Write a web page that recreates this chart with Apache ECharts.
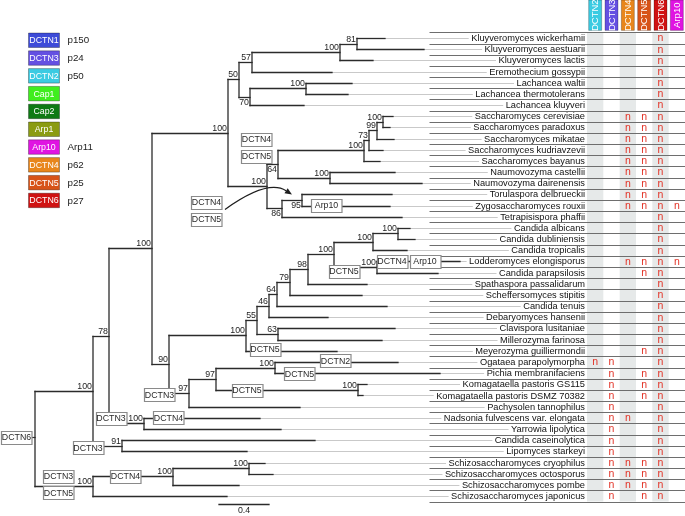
<!DOCTYPE html>
<html><head><meta charset="utf-8">
<script src="https://cdn.jsdelivr.net/npm/echarts@6/dist/echarts.min.js"></script>
<style>html,body{margin:0;padding:0;background:#fff}#c{width:685px;height:516px}</style>
</head><body><div id="c"></div>
<script>
// ---------------- DATA ----------------
const species = ['Kluyveromyces wickerhamii','Kluyveromyces aestuarii','Kluyveromyces lactis','Eremothecium gossypii','Lachancea waltii','Lachancea thermotolerans','Lachancea kluyveri','Saccharomyces cerevisiae','Saccharomyces paradoxus','Saccharomyces mikatae','Saccharomyces kudriavzevii','Saccharomyces bayanus','Naumovozyma castellii','Naumovozyma dairenensis','Torulaspora delbrueckii','Zygosaccharomyces rouxii','Tetrapisispora phaffii','Candida albicans','Candida dubliniensis','Candida tropicalis','Lodderomyces elongisporus','Candida parapsilosis','Spathaspora passalidarum','Scheffersomyces stipitis','Candida tenuis','Debaryomyces hansenii','Clavispora lusitaniae','Millerozyma farinosa','Meyerozyma guilliermondii','Ogataea parapolymorpha','Pichia membranifaciens','Komagataella pastoris GS115','Komagataella pastoris DSMZ 70382','Pachysolen tannophilus','Nadsonia fulvescens var. elongata','Yarrowia lipolytica','Candida caseinolytica','Lipomyces starkeyi','Schizosaccharomyces cryophilus','Schizosaccharomyces octosporus','Schizosaccharomyces pombe','Schizosaccharomyces japonicus'];

// tree (Newick pieces: branch lengths in substitutions/site, internal labels = bootstrap support)
const nwKluy = '((Kluyveromyces wickerhamii:0.224,Kluyveromyces aestuarii:0.536)81:0.136,Kluyveromyces lactis:0.264)100';
const nwKLE = `(${nwKluy}:0.704,Eremothecium gossypii:0.64)57`;
const nwLach = '((Lachancea waltii:0.368,Lachancea thermotolerans:0.336)100:0.448,Lachancea kluyveri:0.432)70';
const nwKLEL = `(${nwKLE}:0.104,${nwLach}:0.088)50`;
const nwSacch = '((((Saccharomyces cerevisiae:0.08,Saccharomyces paradoxus:0.056)100:0.048,Saccharomyces mikatae:0.136)99:0.064,Saccharomyces kudriavzevii:0.112)73:0.04,Saccharomyces bayanus:0.128)100';
const nwNaum = '(Naumovozyma castellii:0.52,Naumovozyma dairenensis:0.736)100';
const nwSN = `(${nwSacch}:0.688,${nwNaum}:0.416)64`;
const nwZT = '((Torulaspora delbrueckii:0.72,Zygosaccharomyces rouxii:0.704)95:0.16,Tetrapisispora phaffii:0.96)86';
const nwWGD = `(${nwSN}:0.088,${nwZT}:0.12)100`;
const nwSaccharomycetaceae = `(${nwKLEL}:0.088,${nwWGD}:0.312)100`;
const nwCandida = '(((Candida albicans:0.096,Candida dubliniensis:0.136)100:0.2,Candida tropicalis:0.272)100:0.312,(Lodderomyces elongisporus:0.664,Candida parapsilosis:0.488)100:0.344)100';
const nwCTG = `((((((${nwCandida}:0.208,Spathaspora passalidarum:0.472)98:0.144,Scheffersomyces stipitis:0.576)79:0.104,Candida tenuis:0.88)64:0.064,Debaryomyces hansenii:0.472)46:0.096,(Clavispora lusitaniae:0.936,Millerozyma farinosa:0.832)63:0.168)55:0.088,Meyerozyma guilliermondii:0.728)100`;
const nwMethylo = '((Ogataea parapolymorpha:0.984,Pichia membranifaciens:1.32)100:0.472,(Komagataella pastoris GS115:0.072,Komagataella pastoris DSMZ 70382:0.04)100:1.136)97';
const nwMethPach = `(${nwMethylo}:0.216,Pachysolen tannophilus:0.888)97`;
const nwN90 = `(${nwCTG}:0.616,${nwMethPach}:0.16)90`;
const nwN152 = `(${nwSaccharomycetaceae}:0.608,${nwN90}:0.136)100`;
const nwN78 = `(${nwN152}:0.344,(Nadsonia fulvescens var. elongata:0.928,Yarrowia lipolytica:1.096)100:0.28)78`;
const nwT1 = `(${nwN78}:0.128,(Candida caseinolytica:1.544,Lipomyces starkeyi:1.0)91:0.232)100`;
const nwSchizo = '(((Schizosaccharomyces cryophilus:0.128,Schizosaccharomyces octosporus:0.192)100:0.608,Schizosaccharomyces pombe:0.528)100:0.64,Schizosaccharomyces japonicus:1.072)100';
const treeNewick = `(${nwT1}:0.464,${nwSchizo}:0.464);`;

// table columns and absent ('n') rows per column
const geneColumns = ['DCTN2','DCTN3','DCTN4','DCTN5','DCTN6','Arp10'];
const absentDCTN2 = [29];
const absentDCTN3 = [29,30,31,32,33,34,35,36,37,38,39,40,41];
const absentDCTN4 = [7,8,9,10,11,12,13,14,15,20,34,38,39,40];
const absentDCTN5 = [7,8,9,10,11,12,13,14,15,20,21,28,30,31,32,38,39,40,41];
const absentDCTN6 = [0,1,2,3,4,5,6,7,8,9,10,11,12,13,14,15,16,17,18,19,20,21,22,23,24,25,26,27,28,29,30,31,32,33,34,35,36,37,38,39,40,41];
const absentArp10 = [15,20];

// legend
const legendGenes = ['DCTN1','DCTN3','DCTN2','Cap1','Cap2','Arp1','Arp10','DCTN4','DCTN5','DCTN6'];
const legendAliases = ['p150','p24','p50','','','','Arp11','p62','p25','p27'];

// gene-loss annotations on branches (gene, clade = MRCA of listed leaves)
const lossGene = ['DCTN6','DCTN3','DCTN3','DCTN4','DCTN3','DCTN5','DCTN4','DCTN3','DCTN5','DCTN2','DCTN5','DCTN5','DCTN5','DCTN4','Arp10','Arp10','DCTN4','DCTN5','DCTN4','DCTN5'];
const lossClade = ['Kluyveromyces wickerhamii|Schizosaccharomyces japonicus','Candida caseinolytica|Lipomyces starkeyi','Nadsonia fulvescens var. elongata|Yarrowia lipolytica','Nadsonia fulvescens var. elongata','Schizosaccharomyces cryophilus|Schizosaccharomyces japonicus','Schizosaccharomyces cryophilus|Schizosaccharomyces japonicus','Schizosaccharomyces cryophilus|Schizosaccharomyces pombe','Ogataea parapolymorpha|Pachysolen tannophilus','Meyerozyma guilliermondii','Ogataea parapolymorpha','Pichia membranifaciens','Komagataella pastoris GS115|Komagataella pastoris DSMZ 70382','Lodderomyces elongisporus|Candida parapsilosis','Lodderomyces elongisporus','Lodderomyces elongisporus','Zygosaccharomyces rouxii','Torulaspora delbrueckii|Zygosaccharomyces rouxii','Torulaspora delbrueckii|Zygosaccharomyces rouxii','Saccharomyces cerevisiae|Naumovozyma dairenensis','Saccharomyces cerevisiae|Naumovozyma dairenensis'];
const lossArrowClade = 'Torulaspora delbrueckii|Zygosaccharomyces rouxii';
const scaleBarLength = 0.4;

// ---------------- LAYOUT / STYLE ----------------
const geneColors = {DCTN1:'#3d4bd8',DCTN3:'#6450e2',DCTN2:'#3ccbe2',Cap1:'#3fee1e',Cap2:'#0e7a14',Arp1:'#8b9b12',Arp10:'#e014e2',DCTN4:'#e8861c',DCTN5:'#d75318',DCTN6:'#cf1212'};
// offsets (px) of loss boxes from (branch start x, branch y)
const lossOffset = [[-18.5,-1.5],[-5,2],[2,-5],[24.5,0],[23.5,-10],[23.5,6.5],[32.5,0],[-9.5,2],[19,-1.5],[60.5,-1],[24.5,0.5],[31,0.5],[10,4],[15,0],[48,0],[24.5,-0.5],[-75.5,2.5],[-75.5,19.5],[-10.5,-24.6],[-10.5,-7.6]];
const arrowLayout = {start:[-57,9.5], ctrl:[-14.5,-21], end:[10,-5.5]};
const supportBelow = ['Saccharomyces cerevisiae|Naumovozyma dairenensis','Lachancea waltii|Lachancea kluyveri','Torulaspora delbrueckii|Tetrapisispora phaffii','Torulaspora delbrueckii|Zygosaccharomyces rouxii'];
const TABLE_LEFT = 587, ROWLINE_LEFT = 430, GRID_TOP = 32.4, GRID_BOTTOM = 14.4;
const SCALE_X = 1.472;
const TREE_COLOR = '#2b2b2b';
const FAMILY = '"Liberation Sans Narrow","Liberation Sans",Arial,sans-serif';
const mctx = document.createElement('canvas').getContext('2d');
function measure(t, size){ mctx.font = size + 'px ' + FAMILY; return mctx.measureText(t).width; }
const NAME_SIZE = Math.min(11.5, 11 * 149 / measure('Komagataella pastoris DSMZ 70382', 11));
const SMALL_SIZE = NAME_SIZE * 0.95;

// ---------------- TREE ----------------
function parseNewick(s){
  let i = 0;
  function node(){
    const n = {children:[], name:'', len:0};
    if (s[i] === '('){ i++; n.children.push(node()); while (s[i] === ','){ i++; n.children.push(node()); } i++; }
    let t = ''; while (i < s.length && ':,();'.indexOf(s[i]) < 0) t += s[i++];
    n.name = t;
    if (s[i] === ':'){ i++; let v = ''; while (i < s.length && ',();'.indexOf(s[i]) < 0) v += s[i++]; n.len = parseFloat(v); }
    return n;
  }
  return node();
}
const root = parseNewick(treeNewick);
const nodes = [];
(function layout(n, parentX){
  n.px = parentX; n.x = parentX + n.len;
  if (!n.children.length){ n.y = species.indexOf(n.name); n.leafSet = [n.name]; }
  else {
    n.children.forEach(c => layout(c, n.x));
    const ys = n.children.map(c => c.y);
    n.y0 = Math.min.apply(null, ys); n.y1 = Math.max.apply(null, ys); n.y = (n.y0 + n.y1) / 2;
    n.leafSet = [].concat.apply([], n.children.map(c => c.leafSet));
    n.support = n.name;
  }
  nodes.push(n);
})(root, 0);
function mrca(key){
  const names = key.split('|'); let best = null;
  nodes.forEach(n => { if (names.every(nm => n.leafSet.indexOf(nm) >= 0) && (!best || n.leafSet.length < best.leafSet.length)) best = n; });
  return best;
}
const belowNodes = supportBelow.map(mrca);
const leaves = nodes.filter(n => !n.children.length);

function txt(x, y, text, size, fill, align, vAlign, extra){
  return Object.assign({type:'text', x:x, y:y, style:{text:text, fill:fill, font: size + 'px ' + FAMILY, align:align, verticalAlign:vAlign}}, extra || {});
}
function line(x1,y1,x2,y2,stroke,w){ return {type:'line', shape:{x1:x1,y1:y1,x2:x2,y2:y2}, style:{stroke:stroke, lineWidth:w, lineCap:'square'}}; }

// ---------------- SERIES ----------------
const series = [];
// table shading
series.push({type:'custom', xAxisIndex:1, yAxisIndex:1, z:0, silent:true,
  data: geneColumns.map((g,i)=>[i,0]),
  renderItem(params, api){
    const i = api.value(0); const bw = api.size([1,0])[0];
    const a = api.coord([i,-0.5]), b = api.coord([i,41.5]);
    if (i % 2 === 0) return {type:'rect', shape:{x:a[0]-bw/2, y:a[1], width:bw, height:b[1]-a[1]}, style:{fill:'#e6e9e9'}};
    return null;
  }});
// row lines
series.push({type:'custom', xAxisIndex:1, yAxisIndex:1, z:1, silent:true,
  data: species.map((s,i)=>[0,i]).concat([[0,42]]),
  renderItem(params, api){
    const r = api.value(1); const y = Math.round(api.coord([0, r-0.5])[1]) + 0.5;
    const cs = params.coordSys;
    return line(ROWLINE_LEFT, y, cs.x + cs.width, y, '#6e6e6e', 1);
  }});
// guide lines
series.push({type:'custom', xAxisIndex:0, yAxisIndex:0, z:1, silent:true,
  data: leaves.map(n=>[n.x, n.y]),
  renderItem(params, api){
    const n = leaves[params.dataIndex];
    const p = api.coord([api.value(0), api.value(1)]);
    const endX = TABLE_LEFT - 2 - measure(n.name, NAME_SIZE) - 3;
    const y = Math.round(p[1]) + 0.5;
    return line(p[0], y, endX, y, '#c9c9c9', 1);
  }});
// branches + support labels
series.push({type:'custom', xAxisIndex:0, yAxisIndex:0, z:3, silent:true,
  data: nodes.map(n=>[n.x, n.y]),
  renderItem(params, api){
    const n = nodes[params.dataIndex]; const ch = [];
    const x = api.value(0), y = api.value(1);
    const p1 = api.coord([n.px, y]), p2 = api.coord([x, y]);
    const yy = Math.round(p2[1]) + 0.5;
    if (x > n.px) ch.push(line(p1[0], yy, p2[0], yy, TREE_COLOR, 1.3));
    if (n.children.length){
      const a = api.coord([x, n.y0]), b = api.coord([x, n.y1]);
      ch.push(line(p2[0], Math.round(a[1])+0.5, p2[0], Math.round(b[1])+0.5, TREE_COLOR, 1.3));
      if (n.support){
        const below = belowNodes.indexOf(n) >= 0;
        ch.push(txt(p2[0]-1, below ? yy+1 : yy-0.5, n.support, SMALL_SIZE, '#1e1e1e', 'right', below ? 'top' : 'bottom'));
      }
    }
    return {type:'group', children:ch};
  }});
// leaf names
series.push({type:'custom', xAxisIndex:1, yAxisIndex:1, z:4, silent:true,
  data: species.map((s,i)=>[0,i]),
  renderItem(params, api){
    const p = api.coord([0, api.value(1)]);
    return txt(params.coordSys.x - 2, p[1]+0.5, species[params.dataIndex], NAME_SIZE, '#111', 'right', 'middle');
  }});
// header cells
series.push({type:'custom', xAxisIndex:1, yAxisIndex:1, z:4, silent:true,
  data: geneColumns.map((g,i)=>[i,-0.5]),
  renderItem(params, api){
    const p = api.coord([api.value(0), -0.5]); const g = geneColumns[params.dataIndex];
    const h = params.coordSys.y - 2;
    return {type:'group', children:[
      {type:'rect', shape:{x:p[0]-6.5, y:0, width:13, height:h}, style:{fill:geneColors[g], stroke:'rgba(0,0,0,0.25)', lineWidth:1}},
      txt(p[0]+0.5, h/2, g, 9.5, '#fff', 'center', 'middle', {rotation:Math.PI/2})
    ]};
  }});
// 'n' marks
const absentLists = [absentDCTN2, absentDCTN3, absentDCTN4, absentDCTN5, absentDCTN6, absentArp10];
const nData = [];
absentLists.forEach((lst, c) => lst.forEach(r => nData.push([c, r])));
series.push({type:'custom', xAxisIndex:1, yAxisIndex:1, z:4, silent:true,
  data: nData,
  renderItem(params, api){
    const p = api.coord([api.value(0), api.value(1)]);
    return txt(p[0], p[1]+0.5, 'n', 10.5, '#e23226', 'center', 'middle');
  }});
// loss boxes
const lossNodes = lossClade.map(mrca);
series.push({type:'custom', xAxisIndex:0, yAxisIndex:0, z:6, silent:true,
  data: lossNodes.map(n=>[n.px, n.y]),
  renderItem(params, api){
    const i = params.dataIndex; const n = lossNodes[i];
    const p = api.coord([api.value(0), api.value(1)]);
    const cx = p[0] + lossOffset[i][0], cy = p[1] + lossOffset[i][1];
    const ch = [];
    if (n === root) ch.push(line(cx+15, Math.round(cy)+0.5, p[0], Math.round(cy)+0.5, TREE_COLOR, 1.2));
    ch.push({type:'rect', shape:{x:Math.round(cx-15.25)+0.5, y:Math.round(cy-6.5)+0.5, width:30.5, height:13}, style:{fill:'#fff', stroke:'#8a8a8a', lineWidth:1.2}});
    ch.push(txt(cx, cy+0.5, lossGene[i], SMALL_SIZE, '#2a2a2a', 'center', 'middle'));
    return {type:'group', children:ch};
  }});
// arrow
const arrowNode = mrca(lossArrowClade);
series.push({type:'custom', xAxisIndex:0, yAxisIndex:0, z:6, silent:true,
  data: [[arrowNode.px, arrowNode.y]],
  renderItem(params, api){
    const p = api.coord([api.value(0), api.value(1)]);
    const s = [p[0]+arrowLayout.start[0], p[1]+arrowLayout.start[1]];
    const c = [p[0]+arrowLayout.ctrl[0], p[1]+arrowLayout.ctrl[1]];
    const e = [p[0]+arrowLayout.end[0], p[1]+arrowLayout.end[1]];
    const dx = e[0]-c[0], dy = e[1]-c[1], L = Math.hypot(dx,dy), ux = dx/L, uy = dy/L;
    const hl = 7, hw = 3;
    const bx = e[0]-ux*hl, by = e[1]-uy*hl;
    return {type:'group', children:[
      {type:'bezierCurve', shape:{x1:s[0],y1:s[1],x2:bx,y2:by,cpx1:c[0],cpy1:c[1]}, style:{stroke:'#1e1e1e', lineWidth:1.2, fill:null}},
      {type:'polygon', shape:{points:[[e[0],e[1]],[bx-uy*hw,by+ux*hw],[bx+uy*hw,by-ux*hw]]}, style:{fill:'#1e1e1e'}}
    ]};
  }});
// scale bar
series.push({type:'custom', xAxisIndex:0, yAxisIndex:0, z:3, silent:true,
  data: [[scaleBarLength, species.length-1]],
  renderItem(params, api){
    const a = api.coord([SCALE_X, api.value(1)]), b = api.coord([SCALE_X + api.value(0), api.value(1)]);
    const y = Math.round(a[1] + 8) + 0.5;
    return {type:'group', children:[
      line(a[0], y, b[0], y, TREE_COLOR, 1.3),
      txt((a[0]+b[0])/2, y+2, String(scaleBarLength), SMALL_SIZE, '#222', 'center', 'top')
    ]};
  }});

// legend (graphic)
const graphic = legendGenes.map((g,i)=>({type:'group', left:28, top:32.5 + i*17.8, children:[
  {type:'rect', shape:{x:0,y:0,width:31,height:14.5}, style:{fill:geneColors[g], stroke:'rgba(0,0,0,0.3)', lineWidth:1}},
  {type:'text', x:15.5, y:7.8, style:{text:g, fill:'#fff', font:SMALL_SIZE+'px '+FAMILY, align:'center', verticalAlign:'middle'}},
  {type:'text', x:39, y:7.8, style:{text:legendAliases[i] || ' ', fill:'#222', font:(NAME_SIZE+0.5)+'px '+FAMILY, align:'left', verticalAlign:'middle'}}
]}));

const chart = echarts.init(document.getElementById('c'));
chart.setOption({
  animation:false,
  backgroundColor:'#fff',
  grid:[{left:35,right:0,top:GRID_TOP,bottom:GRID_BOTTOM},{left:TABLE_LEFT,right:0,top:GRID_TOP,bottom:GRID_BOTTOM}],
  xAxis:[{type:'value',gridIndex:0,min:0,max:5.2,show:false},{type:'category',gridIndex:1,data:geneColumns,show:false}],
  yAxis:[{type:'value',gridIndex:0,min:-0.5,max:41.5,inverse:true,show:false},{type:'value',gridIndex:1,min:-0.5,max:41.5,inverse:true,show:false}],
  graphic: graphic,
  series: series
});
</script></body></html>
